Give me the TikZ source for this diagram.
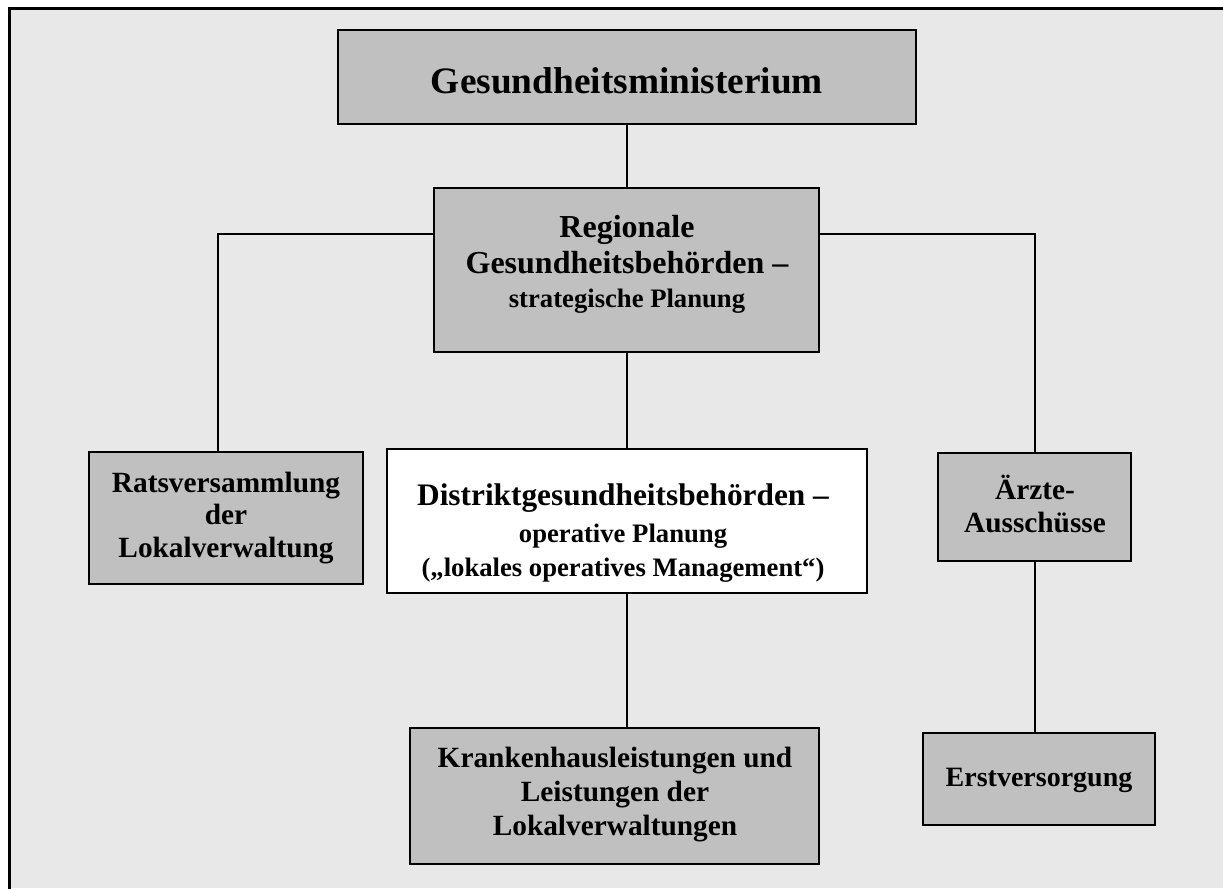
\documentclass[tikz,border=0pt]{standalone}
\usepackage{fontspec}
\setmainfont{Liberation Serif}
\definecolor{panel}{HTML}{E8E8E8}
\definecolor{boxgray}{HTML}{C0C0C0}
\begin{document}
\begin{tikzpicture}[x=0.75pt,y=-0.75pt,
  orgbox/.style={draw=black, line width=1.5pt, fill=boxgray, inner sep=0pt},
  boxtext/.style={inner sep=0pt, align=center},
  wire/.style={line width=1.5pt}]
  % page area and frame
  \useasboundingbox (0,0) rectangle (1223,888);
  \fill[white] (0,0) rectangle (1223,888);
  \fill[panel] (9,9) rectangle (1223,888);
  \draw[line width=2.25pt, line join=miter] (9,890) -- (9,9) -- (1225,9);

  % boxes
  \node[orgbox, minimum width=433.5pt, minimum height=70.5pt] (min) at (627,77) {};
  \node[orgbox, minimum width=288.75pt, minimum height=123pt] (reg) at (626.5,270) {};
  \node[orgbox, minimum width=205.5pt, minimum height=99pt] (rats) at (226,518) {};
  \node[orgbox, fill=white, minimum width=360pt, minimum height=108pt] (dist) at (627,521) {};
  \node[orgbox, minimum width=144.75pt, minimum height=81pt] (aerzte) at (1034.5,507) {};
  \node[orgbox, minimum width=306.75pt, minimum height=102pt] (kh) at (614.5,796) {};
  \node[orgbox, minimum width=174pt, minimum height=69pt] (erst) at (1039,779) {};

  % box texts
  \node[boxtext, font=\bfseries\fontsize{28}{32}\selectfont] (minT) at (627,80.4) {Gesundheitsministerium};
  \node[boxtext, font=\bfseries\fontsize{24}{27}\selectfont] (regT) at (627,264)
    {Regionale\\Gesundheitsbehörden –\\[-1.5pt]{\fontsize{20}{24}\selectfont strategische Planung}};
  \node[boxtext, font=\bfseries\fontsize{22}{24.4}\selectfont] (ratsT) at (226,517.7)
    {Ratsversammlung\\der\\Lokalverwaltung};
  \node[boxtext, font=\bfseries\fontsize{23.5}{27.75}\selectfont] (distT) at (623,532.8)
    {Distriktgesundheitsbehörden –\\{\fontsize{20}{24}\selectfont operative Planung}\\[-2.25pt]{\fontsize{20}{24}\selectfont („lokales operatives Management“)}};
  \node[boxtext, font=\bfseries\fontsize{22}{24.75}\selectfont] (aerzteT) at (1035,503.7)
    {Ärzte-\\Ausschüsse};
  \node[boxtext, font=\bfseries\fontsize{22}{25.5}\selectfont] (khT) at (615,794.2)
    {Krankenhausleistungen und\\Leistungen der\\Lokalverwaltungen};
  \node[boxtext, font=\bfseries\fontsize{21}{24}\selectfont] (erstT) at (1039,780.9)
    {Erstversorgung};

  % connectors
  \coordinate (lj) at (218,234);
  \coordinate (rj) at (1035,234);
  \draw[wire] (min.south) -- (min.south |- reg.north);
  \draw[wire] (reg.south -| min.south) -- (min.south |- dist.north);
  \draw[wire] (min.south |- dist.south) -- (min.south |- kh.north);
  \draw[wire] (reg.west |- lj) -- (lj) -- (lj |- rats.north);
  \draw[wire] (reg.east |- rj) -- (rj) -- (rj |- aerzte.north);
  \draw[wire] (rj |- aerzte.south) -- (rj |- erst.north);
\end{tikzpicture}
\end{document}
